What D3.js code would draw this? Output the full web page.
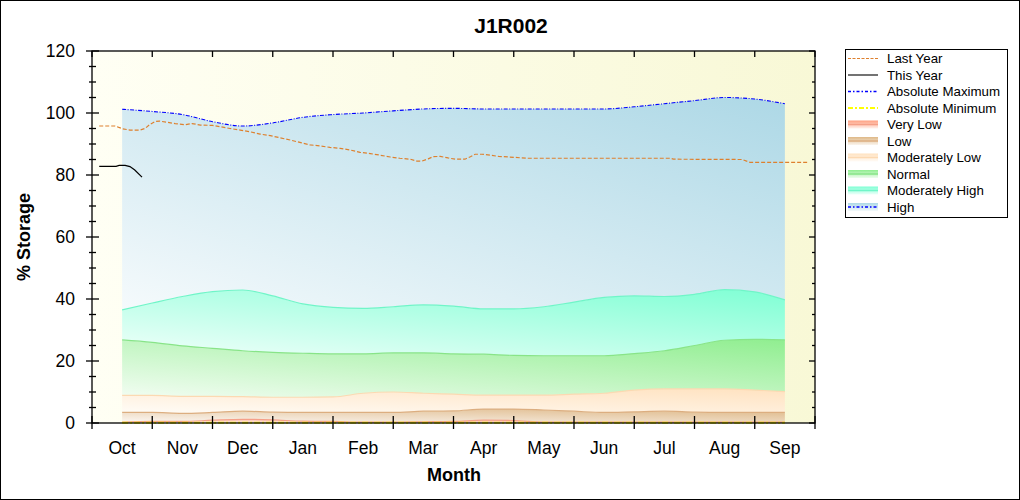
<!DOCTYPE html>
<html>
<head>
<meta charset="utf-8">
<script src="https://d3js.org/d3.v7.min.js"></script>
<style>
  body { margin: 0; background: #fff; }
  text { font-family: Arial, "Liberation Sans", sans-serif; }
</style>
</head>
<body>
<svg id="chart" width="1020" height="500"></svg>
<script>
// ---- data (month index: 0 = Oct ... 11 = Sep) ----
var months = ["Oct", "Nov", "Dec", "Jan", "Feb", "Mar", "Apr", "May", "Jun", "Jul", "Aug", "Sep"];
var yTicks = [0, 20, 40, 60, 80, 100, 120];

var bandT = [0, 0.5, 1, 1.5, 2, 2.5, 3, 3.5, 4, 4.5, 5, 5.5, 6, 6.5, 7, 7.5, 8, 8.5, 9, 9.5, 10, 10.5, 11];
var absMax     = [101.2, 100.5, 99.5, 97.2, 95.8, 96.8, 98.6, 99.5, 100, 100.7, 101.3, 101.5, 101.3, 101.3, 101.3, 101.3, 101.3, 102, 103, 104, 105, 104.5, 103];
var modHighTop = [36.5, 38.7, 40.8, 42.4, 42.9, 41.0, 38.4, 37.3, 37.0, 37.5, 38.1, 37.7, 36.8, 36.8, 37.5, 39.0, 40.5, 41.0, 40.8, 41.5, 43.0, 42.3, 39.7];
var normalTop  = [26.8, 26.0, 24.9, 24.1, 23.3, 22.8, 22.5, 22.3, 22.3, 22.6, 22.6, 22.3, 22.2, 21.8, 21.7, 21.7, 21.7, 22.4, 23.3, 25.0, 26.7, 27.0, 26.8];
var modLowTop  = [8.9, 8.9, 8.6, 8.6, 8.5, 8.3, 8.3, 8.4, 9.6, 10.0, 9.6, 9.3, 9.0, 9.0, 9.0, 9.3, 9.6, 10.6, 11.0, 11.0, 11.0, 10.6, 10.1];
var lowTop     = [3.4, 3.4, 3.1, 3.4, 3.8, 3.5, 3.4, 3.4, 3.4, 3.4, 3.8, 3.9, 4.5, 4.5, 4.2, 3.8, 3.4, 3.6, 3.8, 3.5, 3.4, 3.4, 3.4];
var veryLowTop = [0.3, 0.5, 0.5, 0.9, 1.2, 1.0, 0.6, 0.5, 0.3, 0.3, 0.4, 0.5, 0.9, 0.8, 0.3, 0.3, 0.3, 0.3, 0.3, 0.3, 0.3, 0.3, 0.3];
var absMin     = [0.1, 0.1, 0.1, 0.1, 0.1, 0.1, 0.1, 0.1, 0.1, 0.1, 0.1, 0.1, 0.1, 0.1, 0.1, 0.1, 0.1, 0.1, 0.1, 0.1, 0.1, 0.1, 0.1];

var lastYearT = [-0.38, -0.12, 0.01, 0.13, 0.30, 0.38, 0.46, 0.55, 0.62, 0.88, 1.05, 1.16, 1.30, 1.50, 1.62, 1.79, 1.96,
                 2.13, 2.29, 2.46, 2.62, 2.79, 2.95, 3.12, 3.28, 3.45, 3.62, 3.78, 3.95, 4.12, 4.28, 4.45, 4.61, 4.78,
                 4.89, 4.98, 5.08, 5.16, 5.28, 5.41, 5.53, 5.69, 5.78, 5.86, 5.97, 6.11, 6.25, 6.50, 6.72, 9.10, 9.15,
                 10.29, 10.42, 11.40];
var lastYearV = [95.8, 95.8, 94.9, 94.5, 94.5, 95.0, 96.3, 97.3, 97.4, 96.6, 96.2, 96.6, 96.1, 96.0, 95.6, 95.0, 94.5,
                 93.9, 93.2, 92.7, 92.0, 91.3, 90.5, 89.7, 89.4, 88.9, 88.6, 88.1, 87.3, 86.9, 86.4, 85.8, 85.4, 85.1,
                 84.5, 84.5, 85.2, 85.9, 86.0, 85.5, 85.1, 85.1, 85.9, 86.7, 86.7, 86.4, 86.0, 85.7, 85.4, 85.4, 85.1,
                 85.0, 84.1, 84.1];

var thisYearT = [-0.38, -0.10, -0.05, 0.05, 0.13, 0.21, 0.33];
var thisYearV = [82.8, 82.8, 83.1, 83.1, 82.7, 81.6, 79.3];

(function() {
// ---- layout ----
var svg = d3.select("#chart");
var pLeft = 92, pRight = 815, pTop = 51, pBottom = 423;

var x = d3.scaleLinear().domain([-0.5, 11.5]).range([pLeft, pRight]);
var y = d3.scaleLinear().domain([0, 120]).range([pBottom, pTop]);

var defs = svg.append("defs");

svg.append("rect")
    .attr("x", 0.5).attr("y", 0.5)
    .attr("width", 1019).attr("height", 499)
    .attr("fill", "#fff").attr("stroke", "#000");

// plot background
var bg = defs.append("linearGradient").attr("id", "bgGrad")
    .attr("x1", 0).attr("y1", 0).attr("x2", 1).attr("y2", 0);
bg.append("stop").attr("offset", 0).attr("stop-color", "#fffff4");
bg.append("stop").attr("offset", 1).attr("stop-color", "#f8f8d6");

svg.append("rect")
    .attr("x", pLeft).attr("y", pTop)
    .attr("width", pRight - pLeft).attr("height", pBottom - pTop)
    .attr("fill", "url(#bgGrad)");

// ---- bands ----
var bands = [
    { name: "Very Low",        lo: null,       hi: veryLowTop, color: "#ff9f80", line: "#f5a088" },
    { name: "Low",             lo: veryLowTop, hi: lowTop,     color: "#deb887", line: "#dcae80" },
    { name: "Moderately Low",  lo: lowTop,     hi: modLowTop,  color: "#ffe2c0", line: "#fcd9b2" },
    { name: "Normal",          lo: modLowTop,  hi: normalTop,  color: "#90ee90", line: "#88e488" },
    { name: "Moderately High", lo: normalTop,  hi: modHighTop, color: "#7fffd4", line: "#70f5c8" },
    { name: "High",            lo: modHighTop, hi: absMax,     color: "#add8e6", line: null }
];

bands.forEach(function(b, i) {
    var g = defs.append("linearGradient").attr("id", "band" + i)
        .attr("x1", 0).attr("y1", 1).attr("x2", 1).attr("y2", 0);
    g.append("stop").attr("offset", 0).attr("stop-color", d3.interpolateRgb("#fff", b.color)(0.12));
    g.append("stop").attr("offset", 1).attr("stop-color", b.color);

    var lg = defs.append("linearGradient").attr("id", "leg" + i)
        .attr("x1", 0).attr("y1", 0).attr("x2", 0).attr("y2", 1);
    lg.append("stop").attr("offset", 0).attr("stop-color", b.color);
    lg.append("stop").attr("offset", 1).attr("stop-color", d3.interpolateRgb("#fff", b.color)(0.15));
});

var bandArea = function(b) {
    return d3.area()
        .curve(d3.curveMonotoneX)
        .x(function(d, i) { return x(bandT[i]); })
        .y0(function(d, i) { return b.lo ? y(b.lo[i]) : y(0); })
        .y1(function(d, i) { return y(b.hi[i]); });
};
var bandLine = d3.line()
    .curve(d3.curveMonotoneX)
    .x(function(d, i) { return x(bandT[i]); })
    .y(function(d) { return y(d); });

bands.forEach(function(b, i) {
    svg.append("path")
        .datum(bandT)
        .attr("d", bandArea(b))
        .attr("fill", "url(#band" + i + ")");
});
bands.forEach(function(b) {
    if (!b.line) return;
    svg.append("path")
        .datum(b.hi)
        .attr("d", bandLine)
        .attr("fill", "none")
        .attr("stroke", b.line)
        .attr("stroke-width", 1.2);
});

// ---- lines ----
var seriesLine = function(ts) {
    return d3.line()
        .x(function(d, i) { return x(ts[i]); })
        .y(function(d) { return y(d); });
};

svg.append("path").datum(absMin)
    .attr("d", bandLine)
    .attr("fill", "none").attr("stroke", "#ffff00")
    .attr("stroke-width", 2).attr("stroke-dasharray", "6,2,2,2");

svg.append("path").datum(absMax)
    .attr("d", bandLine)
    .attr("fill", "none").attr("stroke", "#0000ff")
    .attr("stroke-width", 1.1).attr("stroke-dasharray", "4,1.5,1,1.5");

svg.append("path").datum(lastYearV)
    .attr("d", seriesLine(lastYearT))
    .attr("fill", "none").attr("stroke", "#de802e")
    .attr("stroke-width", 1.2).attr("stroke-dasharray", "4,2");

svg.append("path").datum(thisYearV)
    .attr("d", seriesLine(thisYearT))
    .attr("fill", "none").attr("stroke", "#000")
    .attr("stroke-width", 1.2);

// ---- frame & ticks ----
var axisG = svg.append("g").attr("stroke", "#000").attr("stroke-width", 1.3);
axisG.append("rect")
    .attr("x", pLeft).attr("y", pTop)
    .attr("width", pRight - pLeft).attr("height", pBottom - pTop)
    .attr("fill", "none");

var minorY = d3.range(0, 121, 5).filter(function(v) { return v % 20 !== 0; });
var bounds = d3.range(-0.5, 11.6, 1);

axisG.selectAll(".yMaj").data(yTicks).enter().append("line")
    .attr("x1", pLeft - 6).attr("x2", pLeft + 7)
    .attr("y1", function(d) { return y(d); }).attr("y2", function(d) { return y(d); });
axisG.selectAll(".yMin").data(minorY).enter().append("line")
    .attr("x1", pLeft - 3).attr("x2", pLeft + 4)
    .attr("y1", function(d) { return y(d); }).attr("y2", function(d) { return y(d); });
axisG.selectAll(".yMajR").data(yTicks).enter().append("line")
    .attr("x1", pRight - 6).attr("x2", pRight)
    .attr("y1", function(d) { return y(d); }).attr("y2", function(d) { return y(d); });
axisG.selectAll(".yMinR").data(minorY).enter().append("line")
    .attr("x1", pRight - 3).attr("x2", pRight)
    .attr("y1", function(d) { return y(d); }).attr("y2", function(d) { return y(d); });
axisG.selectAll(".xTick").data(bounds).enter().append("line")
    .attr("x1", function(d) { return x(d); }).attr("x2", function(d) { return x(d); })
    .attr("y1", pBottom - 7).attr("y2", pBottom + 6);
axisG.selectAll(".xTickT").data(bounds).enter().append("line")
    .attr("x1", function(d) { return x(d); }).attr("x2", function(d) { return x(d); })
    .attr("y1", pTop).attr("y2", pTop + 6);

// tick labels
svg.selectAll(".yLab").data(yTicks).enter().append("text")
    .attr("x", pLeft - 17).attr("y", function(d) { return y(d) + 6; })
    .attr("text-anchor", "end").attr("font-size", 17.5)
    .text(function(d) { return d; });

svg.selectAll(".xLab").data(months).enter().append("text")
    .attr("x", function(d, i) { return x(i); }).attr("y", 454)
    .attr("text-anchor", "middle").attr("font-size", 17.5)
    .text(function(d) { return d; });

// titles
svg.append("text").attr("x", 511).attr("y", 33)
    .attr("text-anchor", "middle").attr("font-size", 21).attr("font-weight", "bold")
    .text("J1R002");
svg.append("text").attr("x", 454).attr("y", 481)
    .attr("text-anchor", "middle").attr("font-size", 18).attr("font-weight", "bold")
    .text("Month");
svg.append("text")
    .attr("transform", "translate(30,237) rotate(-90)")
    .attr("text-anchor", "middle").attr("font-size", 18).attr("font-weight", "bold")
    .text("% Storage");

// ---- legend ----
var legend = svg.append("g");
legend.append("rect")
    .attr("x", 845.5).attr("y", 49.5).attr("width", 162).attr("height", 168)
    .attr("fill", "#fff").attr("stroke", "#000");

var legItems = [
    { name: "Last Year",        stroke: "#de802e", dash: "3,1.5",     width: 1.1 },
    { name: "This Year",        stroke: "#000",    dash: null,        width: 1.1 },
    { name: "Absolute Maximum", stroke: "#0000ff", dash: "3,2,1.5,2", width: 1.4 },
    { name: "Absolute Minimum", stroke: "#ffff00", dash: "5,2,2,2",   width: 2 }
].concat(bands.map(function(b, i) {
    return { name: b.name, band: i, stroke: b.line || "#0000ff", dash: b.line ? null : "3,2,1.5,2", width: b.line ? 1.5 : 1.4 };
}));

var rowH = 16.5, row0 = 58.5;
legItems.forEach(function(d, i) {
    var cy = row0 + i * rowH;
    if (d.band !== undefined) {
        legend.append("rect")
            .attr("x", 848).attr("y", cy - 4).attr("width", 30).attr("height", 8)
            .attr("fill", "url(#leg" + d.band + ")");
    }
    legend.append("line")
        .attr("x1", 848).attr("x2", 878).attr("y1", cy).attr("y2", cy)
        .attr("stroke", d.stroke).attr("stroke-width", d.width)
        .attr("stroke-dasharray", d.dash);
    legend.append("text")
        .attr("x", 887).attr("y", cy + 4.5)
        .attr("font-size", 13.3)
        .text(d.name);
});
})();
</script>
</body>
</html>
